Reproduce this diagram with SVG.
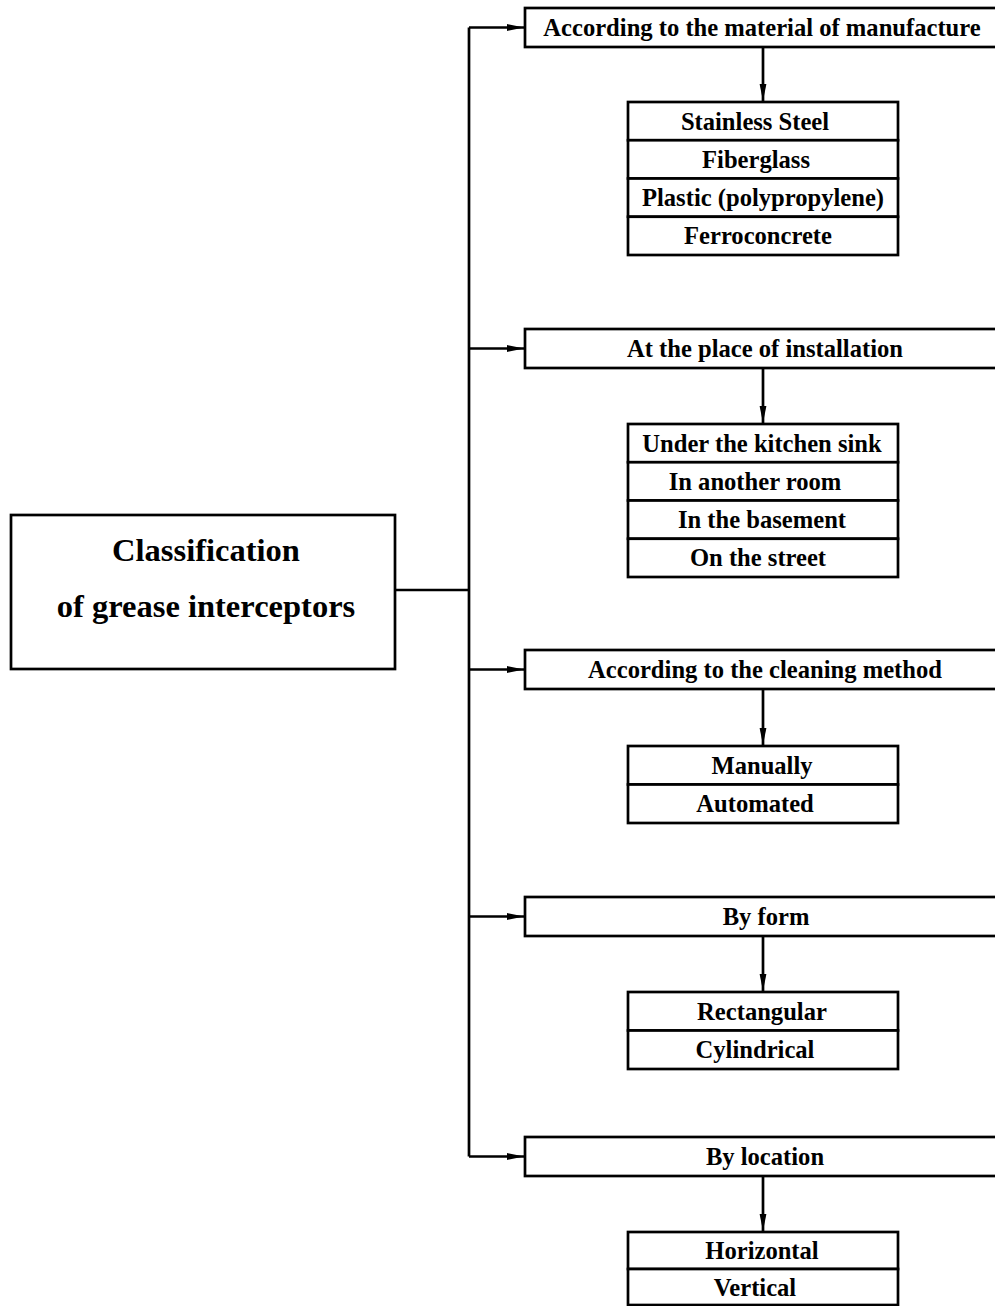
<svg xmlns="http://www.w3.org/2000/svg" width="995" height="1306" viewBox="0 0 995 1306">
<style>
.box{fill:#fff;stroke:#000;stroke-width:2.7}
.t{font-family:"Liberation Serif","Times New Roman",serif;font-weight:bold;font-size:24.6px;text-anchor:middle;fill:#000}
.big{font-size:32.5px}
.ln{fill:none;stroke:#000;stroke-width:2.7}
</style>
<defs>
<marker id="ah" markerUnits="userSpaceOnUse" markerWidth="18" markerHeight="8" refX="17" refY="4" orient="auto">
<path d="M0,0.6 L17,4 L0,7.4 Z" fill="#000"/>
</marker>
</defs>
<rect width="995" height="1306" fill="#fff"/>
<g id="connectors">
<path class="ln" d="M395,590 H469"/>
<path class="ln" d="M469,27.5 V1156.5"/>
<path class="ln" d="M469,27.5 H524" marker-end="url(#ah)"/>
<path class="ln" d="M469,348.5 H524" marker-end="url(#ah)"/>
<path class="ln" d="M469,669.5 H524" marker-end="url(#ah)"/>
<path class="ln" d="M469,916.5 H524" marker-end="url(#ah)"/>
<path class="ln" d="M469,1156.5 H524" marker-end="url(#ah)"/>
<path class="ln" d="M763,47 V101" marker-end="url(#ah)"/>
<path class="ln" d="M763,368 V423" marker-end="url(#ah)"/>
<path class="ln" d="M763,689 V745" marker-end="url(#ah)"/>
<path class="ln" d="M763,936 V991" marker-end="url(#ah)"/>
<path class="ln" d="M763,1176 V1231" marker-end="url(#ah)"/>
</g>
<g id="root">
<rect class="box" x="11" y="515" width="384" height="154"/>
<text class="t big" x="206" y="561">Classification</text>
<text class="t big" x="206" y="617">of grease interceptors</text>
</g>
<g id="h1">
<rect class="box" x="525" y="8" width="478" height="39"/>
<text class="t" x="762" y="35.5">According to the material of manufacture</text>
</g>
<g id="s1">
<rect class="box" x="628" y="102" width="270" height="38.25"/>
<rect class="box" x="628" y="140.25" width="270" height="38.25"/>
<rect class="box" x="628" y="178.5" width="270" height="38.25"/>
<rect class="box" x="628" y="216.75" width="270" height="38.25"/>
<text class="t" x="755" y="129.5">Stainless Steel</text>
<text class="t" x="756" y="167.5">Fiberglass</text>
<text class="t" x="763" y="206">Plastic (polypropylene)</text>
<text class="t" x="758" y="244">Ferroconcrete</text>
</g>
<g id="h2">
<rect class="box" x="525" y="329" width="478" height="39"/>
<text class="t" x="765" y="356.5">At the place of installation</text>
</g>
<g id="s2">
<rect class="box" x="628" y="424" width="270" height="38.25"/>
<rect class="box" x="628" y="462.25" width="270" height="38.25"/>
<rect class="box" x="628" y="500.5" width="270" height="38.25"/>
<rect class="box" x="628" y="538.75" width="270" height="38.25"/>
<text class="t" x="762" y="451.5">Under the kitchen sink</text>
<text class="t" x="755" y="489.5">In another room</text>
<text class="t" x="762" y="528">In the basement</text>
<text class="t" x="758" y="566">On the street</text>
</g>
<g id="h3">
<rect class="box" x="525" y="650" width="478" height="39"/>
<text class="t" x="765" y="677.5">According to the cleaning method</text>
</g>
<g id="s3">
<rect class="box" x="628" y="746" width="270" height="38.5"/>
<rect class="box" x="628" y="784.5" width="270" height="38.5"/>
<text class="t" x="762" y="773.5">Manually</text>
<text class="t" x="755" y="811.5">Automated</text>
</g>
<g id="h4">
<rect class="box" x="525" y="897" width="478" height="39"/>
<text class="t" x="766" y="924.5">By form</text>
</g>
<g id="s4">
<rect class="box" x="628" y="992" width="270" height="38.5"/>
<rect class="box" x="628" y="1030.5" width="270" height="38.5"/>
<text class="t" x="762" y="1019.5">Rectangular</text>
<text class="t" x="755" y="1057.5">Cylindrical</text>
</g>
<g id="h5">
<rect class="box" x="525" y="1137" width="478" height="39"/>
<text class="t" x="765" y="1164.5">By location</text>
</g>
<g id="s5">
<rect class="box" x="628" y="1232" width="270" height="37"/>
<rect class="box" x="628" y="1269" width="270" height="36"/>
<text class="t" x="762" y="1258.5">Horizontal</text>
<text class="t" x="755" y="1295.5">Vertical</text>
</g>
</svg>
